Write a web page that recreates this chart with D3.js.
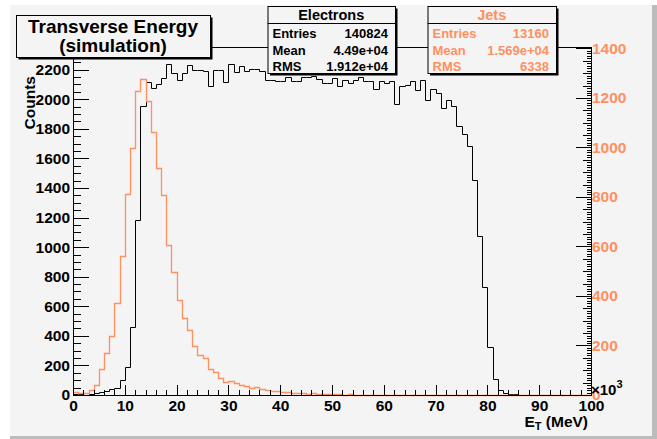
<!DOCTYPE html>
<html><head><meta charset="utf-8">
<script src="https://cdn.jsdelivr.net/npm/d3@7"></script>
<style>
body{margin:0;background:#ffffff}
svg{display:block;font-family:"Liberation Sans",Arial,Helvetica,sans-serif;font-weight:bold}
</style>
</head><body>
<svg id="c" width="657" height="439"></svg>
<script>
// ---- data (x in units of 10^3 MeV, 100 bins of width 1) ----
const binLow = d3.range(0, 100);
const electrons = [4,5,3,6,11,22,30,38,45,101,192,463,1180,1952,2115,2077,2106,2144,2241,2178,
  2128,2178,2234,2200,2200,2189,2092,2200,2200,2115,2241,2182,2223,2194,2205,2205,2190,2130,2133,2121,
  2125,2151,2121,2121,2151,2151,2160,2137,2110,2110,2144,2092,2128,2110,2133,2150,2121,2121,2070,2121,
  2110,2121,1970,2088,2099,2121,2065,2133,1993,2070,2043,1938,1993,1952,1821,1764,1684,1456,1076,733,
  323,108,36,14,6,4,3,3,2,2,1,1,1,0,1,0,0,1,0,0];
const jets = [13,9,7,20,40,107,168,237,370,563,811,996,1227,1278,1189,1062,918,807,606,496,
  382,312,261,198,162,150,107,94,67,52,58,47,40,36,27,33,26,22,18,15,
  13,12,8,7,7,6,7,5,6,3,4,3,2,3,2,2,1,2,1,1,
  1,1,0,1,0,1,0,0,1,0,0,0,0,1,0,0,0,0,0,0,
  0,0,0,0,0,0,0,0,0,0,0,0,0,0,0,0,0,0,0,0];
const xTickLabels = d3.range(0, 101, 10);
const leftTickLabels = d3.range(0, 2201, 200);
const rightTickLabels = d3.range(0, 1401, 200);
const titleLines = ["Transverse Energy", "(simulation)"];
const statsElectronsTitle = "Electrons";
const statsElectrons = [["Entries", "140824"], ["Mean", "4.49e+04"], ["RMS", "1.912e+04"]];
const statsJetsTitle = "Jets";
const statsJets = [["Entries", "13160"], ["Mean", "1.569e+04"], ["RMS", "6338"]];

// ---- layout ----
const ORANGE = "#ff9060";
const BG = "#f4f4f4";
const F = {l: 73, r: 591, t: 47, b: 395};
const svg = d3.select("#c");

// pad background / bevel
svg.append("rect").attr("x", 10).attr("y", 5).attr("width", 647).attr("height", 434).attr("fill", "#bcbcbc");
svg.append("rect").attr("x", 10).attr("y", 5).attr("width", 642).attr("height", 431).attr("fill", BG);

const x = d3.scaleLinear().domain([0, 100]).range([F.l, F.r]);
const yL = d3.scaleLinear().domain([0, 1.05 * d3.max(electrons)]).range([F.b, F.t]);
const yR = d3.scaleLinear().domain([0, 1.1 * d3.max(jets)]).range([F.b, F.t]);

// frame
svg.append("rect").attr("x", F.l + 0.5).attr("y", F.t + 0.5)
  .attr("width", F.r - F.l).attr("height", F.b - F.t)
  .attr("fill", "none").attr("stroke", "#000").attr("stroke-width", 1);

function stepPts(vals) {
  const pts = vals.map((v, i) => [binLow[i], v]);
  pts.push([100, vals[vals.length - 1]]);
  return pts;
}
const lineL = d3.line().x(d => Math.round(x(d[0])) + 0.5).y(d => Math.round(yL(d[1])) + 0.5).curve(d3.curveStepAfter);
const lineR = d3.line().x(d => Math.round(x(d[0])) + 0.5).y(d => Math.round(yR(d[1])) + 0.5).curve(d3.curveStepAfter);

svg.append("path").attr("d", lineL(stepPts(electrons))).attr("fill", "none").attr("stroke", "#000").attr("stroke-width", 1);
svg.append("path").attr("d", lineR(stepPts(jets))).attr("fill", "none").attr("stroke", ORANGE).attr("stroke-width", 1.3);

// ---- axes ----
const fs = "15.5px";
function styleAxis(g, color) {
  g.select(".domain").attr("stroke", color).attr("stroke-width", 1);
  g.selectAll(".tick line").attr("stroke", color).attr("stroke-width", 1);
  g.selectAll("text").attr("fill", color).attr("font-size", fs).attr("font-family", "Liberation Sans, Arial, sans-serif").attr("font-weight", "bold");
  g.attr("shape-rendering", "crispEdges");
}
// bottom
const gxMinor = svg.append("g").attr("transform", `translate(0,${F.b})`)
  .call(d3.axisBottom(x).tickValues(d3.range(0, 101, 2).filter(v => v % 10)).tickSize(-5).tickSizeOuter(0).tickFormat(""));
styleAxis(gxMinor, "#000");
const gx = svg.append("g").attr("transform", `translate(0,${F.b})`)
  .call(d3.axisBottom(x).tickValues(xTickLabels).tickSize(-10).tickSizeOuter(0).tickPadding(5).tickFormat(d3.format("d")));
styleAxis(gx, "#000");

// left
const gyMinor = svg.append("g").attr("transform", `translate(${F.l},0)`)
  .call(d3.axisLeft(yL).tickValues(d3.range(0, 2300, 50).filter(v => v % 200)).tickSize(-8).tickSizeOuter(0).tickFormat(""));
styleAxis(gyMinor, "#000");
const gy = svg.append("g").attr("transform", `translate(${F.l},0)`)
  .call(d3.axisLeft(yL).tickValues(leftTickLabels).tickSize(-16).tickSizeOuter(0).tickPadding(3).tickFormat(d3.format("d")));
styleAxis(gy, "#000");

// right
const gr3 = svg.append("g").attr("transform", `translate(${F.r},0)`)
  .call(d3.axisRight(yR).tickValues(d3.range(0, 1401, 10).filter(v => v % 50)).tickSize(-4).tickSizeOuter(0).tickFormat(""));
styleAxis(gr3, "#000");
const gr2 = svg.append("g").attr("transform", `translate(${F.r},0)`)
  .call(d3.axisRight(yR).tickValues(d3.range(0, 1401, 50).filter(v => v % 200)).tickSize(-8).tickSizeOuter(0).tickFormat(""));
styleAxis(gr2, "#000");
const gr = svg.append("g").attr("transform", `translate(${F.r},0)`)
  .call(d3.axisRight(yR).tickValues(rightTickLabels).tickSize(-15).tickSizeOuter(0).tickPadding(1).tickFormat(d3.format("d")));
styleAxis(gr, "#000");
gr.selectAll("text").attr("fill", ORANGE);

// axis titles
const xt = svg.append("text").attr("x", 588).attr("y", 427).attr("text-anchor", "end").attr("font-size", "15.5px");
xt.append("tspan").text("E");
xt.append("tspan").attr("font-size", "11px").attr("dy", 3).text("T");
xt.append("tspan").attr("dy", -3).text(" (MeV)");

svg.append("text").attr("transform", `translate(35,76) rotate(-90)`).attr("text-anchor", "end")
  .attr("font-size", "15.5px").text("Counts");

const ex = svg.append("text").attr("x", 591).attr("y", 395).attr("font-size", "15px");
ex.append("tspan").text("\u00d710");
ex.append("tspan").attr("font-size", "11px").attr("dy", -7).text("3");

// ---- boxes ----
function shadowBox(bx, by, w, h) {
  svg.append("rect").attr("x", bx + 2.5).attr("y", by + 2.5).attr("width", w).attr("height", h).attr("fill", "#000");
  svg.append("rect").attr("x", bx + 0.5).attr("y", by + 0.5).attr("width", w).attr("height", h)
    .attr("fill", BG).attr("stroke", "#000").attr("stroke-width", 1);
}
// title
shadowBox(16, 15, 194, 42);
svg.append("text").attr("x", 113).attr("y", 32.5).attr("text-anchor", "middle").attr("font-size", "19px").text(titleLines[0]);
svg.append("text").attr("x", 113).attr("y", 52).attr("text-anchor", "middle").attr("font-size", "19px").text(titleLines[1]);

function statsBox(bx, w, title, rows, color) {
  const by = 6, h = 67;
  shadowBox(bx, by, w, h);
  svg.append("line").attr("x1", bx).attr("x2", bx + w).attr("y1", 23.5).attr("y2", 23.5).attr("stroke", "#000");
  svg.append("text").attr("x", bx + w / 2).attr("y", 20).attr("text-anchor", "middle").attr("font-size", "14.5px").attr("fill", color).text(title);
  const ys = [38, 54.5, 71];
  rows.forEach((r, i) => {
    svg.append("text").attr("x", bx + 5).attr("y", ys[i]).attr("font-size", "13px").attr("fill", color).text(r[0]);
    svg.append("text").attr("x", bx + w - 7).attr("y", ys[i]).attr("text-anchor", "end").attr("font-size", "13px").attr("fill", color).text(r[1]);
  });
}
statsBox(267.5, 127.5, statsElectronsTitle, statsElectrons, "#000");
statsBox(427.5, 128.5, statsJetsTitle, statsJets, ORANGE);
</script>
</body></html>
